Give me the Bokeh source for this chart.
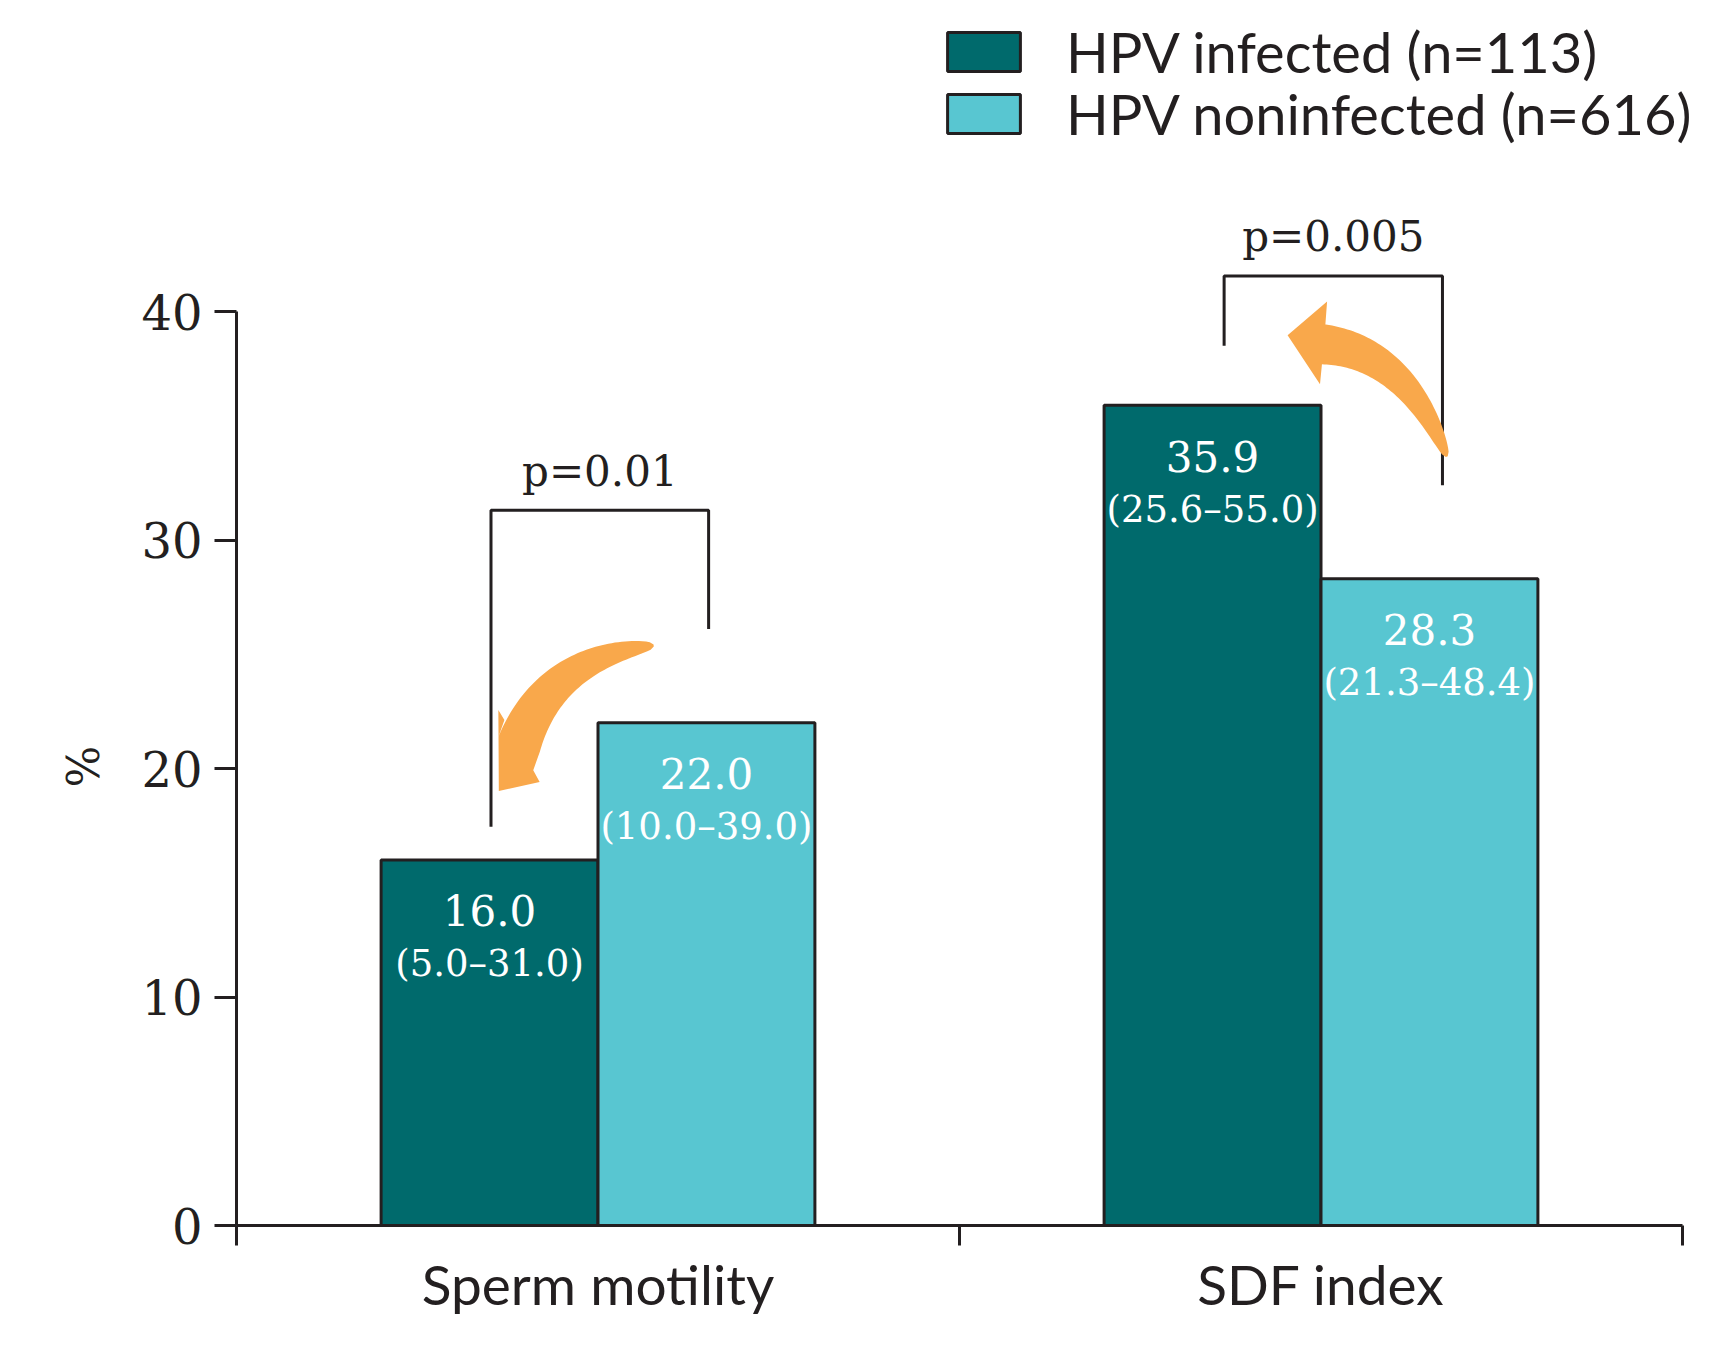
import numpy as np
from bokeh.plotting import figure
from bokeh.models import Range1d, FixedTicker, Legend, LegendItem, Title, LinearAxis
from bokeh.core.properties import value
from bokeh.embed import file_html
from bokeh.resources import INLINE

# ---------------- data ----------------
categories = ["Sperm motility", "SDF index"]
series_labels = ["HPV infected (n=113)", "HPV noninfected (n=616)"]
infected = [16.0, 35.9]
noninfected = [22.0, 28.3]
infected_iqr = ["(5.0–31.0)", "(25.6–55.0)"]
noninfected_iqr = ["(10.0–39.0)", "(21.3–48.4)"]
p_values = ["p=0.01", "p=0.005"]
y_ticks = [0, 10, 20, 30, 40]

# ---------------- styles ----------------
DARK = "#006A6C"
LIGHT = "#58C6D1"
ORANGE = "#F9A84B"
INK = "#231F20"
SERIF = "DejaVu Serif"
SANS = "Lato"

W, H = 1700, 1343
MB_L, MB_R, MB_T, MB_B = 236, 4, 10, 118
FRAME_W = W - MB_L - MB_R
FRAME_H = H - MB_T - MB_B
SX = 1446.0 / 2.0          # px per category
SY = 914.0 / 40.0          # px per percent
X_END = FRAME_W / SX
Y_END = FRAME_H / SY

BAR_W = 0.3
idx = np.arange(len(categories))
x_inf = idx + 0.35
x_non = idx + 0.65

p = figure(width=W, height=H, x_range=Range1d(0, X_END), y_range=Range1d(0, Y_END),
           output_backend="svg", toolbar_location=None,
           min_border_left=MB_L, min_border_right=MB_R,
           min_border_top=MB_T, min_border_bottom=MB_B)
p.outline_line_color = None
p.xgrid.visible = False
p.ygrid.visible = False
p.background_fill_color = "white"

# ---------------- bars ----------------
r1 = p.vbar(x=x_inf, top=infected, width=BAR_W, bottom=0,
            fill_color=DARK, line_color=INK, line_width=3)
r2 = p.vbar(x=x_non, top=noninfected, width=BAR_W, bottom=0,
            fill_color=LIGHT, line_color=INK, line_width=3)

# value labels inside bars
for xs, vals, iqr in ((x_inf, infected, infected_iqr), (x_non, noninfected, noninfected_iqr)):
    p.text(x=list(xs), y=vals, text=[f"{v:.1f}" for v in vals], y_offset=51,
           text_align="center", text_baseline="alphabetic", text_color="white",
           text_font=value(SERIF), text_font_size="42px")
    p.text(x=list(xs), y=vals, text=iqr, y_offset=104,
           text_align="center", text_baseline="alphabetic", text_color="white",
           text_font=value(SERIF), text_font_size="37px")

# ---------------- significance brackets ----------------
br_left_x = [0.352, 1.366]
br_right_x = [0.653, 1.668]
br_top = [31.3, 41.55]
br_left_bottom = [17.45, 38.5]
br_right_bottom = [26.1, 32.4]
p.multi_line(xs=[[a, a, b, b] for a, b in zip(br_left_x, br_right_x)],
             ys=[[lb, t, t, rb] for lb, t, rb in zip(br_left_bottom, br_top, br_right_bottom)],
             line_color=INK, line_width=3)
p.text(x=[(a + b) / 2 for a, b in zip(br_left_x, br_right_x)], y=[33.0, 43.3], text=p_values,
       text_align="center", text_baseline="alphabetic", text_color=INK,
       text_font=value(SERIF), text_font_size="42px")

# ---------------- curved arrows ----------------
def curved_arrow(tail, ctrl, base, hw_base, hw_tail, tip, barb_l, barb_r, expo=0.5):
    """Tapered quadratic-Bezier arrow; head points given as (along, across) px
    relative to the end of the shaft."""
    P0 = np.array([tail[0] * SX, tail[1] * SY])
    C = np.array([ctrl[0] * SX, ctrl[1] * SY])
    P2 = np.array([base[0] * SX, base[1] * SY])
    t = np.linspace(0, 1, 60)[:, None]
    B = (1 - t) ** 2 * P0 + 2 * (1 - t) * t * C + t ** 2 * P2
    D = 2 * (1 - t) * (C - P0) + 2 * t * (P2 - C)
    D = D / np.linalg.norm(D, axis=1)[:, None]
    N = np.column_stack([-D[:, 1], D[:, 0]])
    hw = hw_tail + (hw_base - hw_tail) * t ** expo
    left = B + N * hw
    right = B - N * hw
    d, n = D[-1], N[-1]
    pt = lambda a: P2 + d * a[0] + n * a[1]
    notch_l = P2 + n * hw_base + d * barb_l[0] * hw_base / abs(barb_l[1])
    notch_r = P2 - n * hw_base + d * barb_r[0] * hw_base / abs(barb_r[1])
    poly = np.vstack([left, notch_l, pt(barb_l), pt(tip), pt(barb_r), notch_r, right[::-1]])
    return list(poly[:, 0] / SX), list(poly[:, 1] / SY)

ax1, ay1 = curved_arrow((0.577, 25.38), (0.434, 24.9), (0.391, 21.07), 22, 1.0,
                        tip=(51, -3.5), barb_l=(29, 32), barb_r=(-25, -31))
ax2, ay2 = curved_arrow((1.674, 33.65), (1.617, 38.21), (1.504, 38.56), 20, 1.0,
                        tip=(37, -5.5), barb_l=(0, 40), barb_r=(1, -43))
p.patches(xs=[ax1, ax2], ys=[ay1, ay2], fill_color=ORANGE, line_color=None)

# ---------------- axes ----------------
yax = p.yaxis[0]
yax.ticker = FixedTicker(ticks=y_ticks, minor_ticks=[])
yax.bounds = (0, 40)
yax.axis_line_width = 3
yax.axis_line_color = INK
yax.major_tick_line_width = 3
yax.major_tick_line_color = INK
yax.major_tick_out = 22
yax.major_tick_in = 0
yax.minor_tick_line_color = None
yax.major_label_text_font = SERIF
yax.major_label_text_font_size = "48px"
yax.major_label_text_color = INK
yax.major_label_standoff = 12

# invisible spacer axis that pushes the y title further out to the left
spacer = LinearAxis(ticker=FixedTicker(ticks=[], minor_ticks=[]), axis_line_color=None,
                    major_tick_line_color=None, minor_tick_line_color=None,
                    major_tick_out=30, major_tick_in=0, minor_tick_out=0, minor_tick_in=0)
p.add_layout(spacer, "left")

# y-axis title, level with the lower half of the axis as in the original
p.add_layout(Title(text="%", align="left", offset=438, standoff=60,
                   text_font=SERIF, text_font_size="44px", text_font_style="normal",
                   text_color=INK), "left")

xax = p.xaxis[0]
xax.ticker = FixedTicker(ticks=list(idx + 0.5), minor_ticks=[0, 1, 2])
xax.major_label_overrides = {float(i + 0.5): c for i, c in enumerate(categories)}
xax.bounds = (0, 2)
xax.axis_line_width = 3
xax.axis_line_color = INK
xax.major_tick_out = 0
xax.major_tick_in = 0
xax.major_tick_line_color = None
xax.minor_tick_out = 20
xax.minor_tick_in = 0
xax.minor_tick_line_width = 3
xax.minor_tick_line_color = INK
xax.major_label_text_font = SANS
xax.major_label_text_font_size = "55px"
xax.major_label_text_color = INK
xax.major_label_standoff = 5

# ---------------- legend (one block per series for exact row placement) ----------------
legend_rows_y = [1140, 1078]
for r, lab, ly in zip((r1, r2), series_labels, legend_rows_y):
    p.add_layout(Legend(items=[LegendItem(label=lab, renderers=[r])],
                        location=(702, ly), glyph_width=91, glyph_height=49,
                        label_standoff=37, spacing=0, padding=0, margin=0,
                        border_line_color=None, background_fill_alpha=0,
                        label_text_font=SANS, label_text_font_size="56px",
                        label_text_color=INK))

open("out.html", "w").write(file_html(p, INLINE))
